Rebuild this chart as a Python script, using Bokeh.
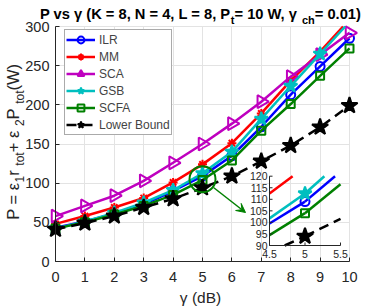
import numpy as np
from bokeh.plotting import figure
from bokeh.models import (Range1d, FixedTicker, Legend, LegendItem, Label,
                          Arrow, VeeHead, Grid)
from bokeh.core.properties import value
from bokeh.embed import file_html
from bokeh.resources import INLINE

# ---------------- data ----------------
gamma_db = [0, 1, 2, 3, 4, 5, 6, 7, 8, 9, 10]
ilr   = [43, 51, 61, 73, 90, 109, 135, 172, 213, 249, 285]
mm    = [48, 58, 69, 81, 101, 124, 151, 189, 231, 268, 309]
sca   = [58, 71, 84, 103, 126, 150, 176, 204, 236, 264, 292]
gsb   = [42, 51, 62, 75, 91, 112.5, 140, 182, 224, 265, 306]
scfa  = [42, 50, 60, 71, 85, 104, 129, 167, 201, 237, 272]
lower = [41, 49, 58, 69, 80, 94, 109, 128, 148, 171.5, 199]

x_ticks = [0, 1, 2, 3, 4, 5, 6, 7, 8, 9, 10]
y_ticks = [0, 50, 100, 150, 200, 250, 300]
x_lim = [0, 10]
y_lim = [0, 300]
zoom_x = [4.5, 5.5]
zoom_y = [90, 120]
inset_x_ticks = [4.5, 5, 5.5]
inset_x_labels = ["4.5", "5", "5.5"]
inset_y_ticks = [90, 95, 100, 105, 110, 115, 120]
inset_y_labels = ["90", "95", "100", "105", "110", "115", "120"]

title_parts = [("P vs \u03b3 (K = 8, N = 4, L = 8, P", False), ("t", True),
               (" = 10 W, \u03b3", False), ("ch", True), (" = 0.01)", False)]
ylabel_parts = [("P = \u03b5", False), ("1", True), (" r", False), ("tot", True),
                (" + \u03b5", False), ("2", True), (" P", False), ("tot", True),
                (" (W)", False)]
xlabel_text = "\u03b3 (dB)"

series = [
    ("ILR", ilr, "#0000ff", "circle", 9, False, None),
    ("MM", mm, "#ff0000", "asterisk", 9, False, None),
    ("SCA", sca, "#bf00bf", "triangle", 13, False, -np.pi / 2),
    ("GSB", gsb, "#00bfbf", "star", 14, True, None),
    ("SCFA", scfa, "#008000", "square", 8, False, None),
    ("Lower Bound", lower, "#000000", "star", 17, True, None),
]

# ---------------- page layout (pixels) ----------------
PAGE_W, PAGE_H = 366, 307
AL, AR, AT, AB = 55, 349, 26, 261          # axes box on the page
IL, IR, IT, IB = 269, 340, 175.7, 245      # inset box on the page
LEG_LEFT, LEG_BOTTOM = 64, 135             # legend box corner on the page
AX = "#262626"
FONT = "Liberation Sans"

kx = (x_lim[1] - x_lim[0]) / (AR - AL)
ky = (y_lim[1] - y_lim[0]) / (AB - AT)


def dx(px):
    return x_lim[0] + (px - AL) * kx


def dy(py):
    return y_lim[1] - (py - AT) * ky


REG = {' ': 278, '(': 333, ')': 333, '+': 584, '=': 584, ',': 278, '.': 278,
       'B': 667, 'K': 667, 'L': 556, 'N': 722, 'P': 667, 'W': 944, 'b': 556,
       'c': 500, 'd': 556, 'h': 556, 'o': 556, 'r': 333, 's': 500, 't': 278,
       'v': 500, '\u03b3': 500, '\u03b5': 450}
BOLD = {' ': 278, '(': 333, ')': 333, '=': 584, ',': 278, '.': 278, 'K': 722,
        'L': 611, 'N': 722, 'P': 667, 'W': 944, 'c': 556, 'h': 611, 's': 556,
        't': 333, 'v': 556, '\u03b3': 556}


def text_w(s, size, bold=False):
    tab = BOLD if bold else REG
    return sum(tab.get(ch, 556) for ch in s) / 1000.0 * size


def clip_segments(xs, ys, xmin, xmax, ymin, ymax):
    ox, oy = [], []
    for i in range(len(xs) - 1):
        x0, y0, x1, y1 = xs[i], ys[i], xs[i + 1], ys[i + 1]
        ddx, ddy = x1 - x0, y1 - y0
        t0, t1 = 0.0, 1.0
        ok = True
        for pp, qq in ((-ddx, x0 - xmin), (ddx, xmax - x0), (-ddy, y0 - ymin), (ddy, ymax - y0)):
            if pp == 0:
                if qq < 0:
                    ok = False
                    break
            else:
                r = qq / pp
                if pp < 0:
                    if r > t1:
                        ok = False
                        break
                    t0 = max(t0, r)
                else:
                    if r < t0:
                        ok = False
                        break
                    t1 = min(t1, r)
        if ok and t1 > t0:
            ox.append([x0 + t0 * ddx, x0 + t1 * ddx])
            oy.append([y0 + t0 * ddy, y0 + t1 * ddy])
    return ox, oy


# whole page is the plotting frame; axes are pinned at x=0 / y=0
p = figure(width=PAGE_W, height=PAGE_H, output_backend="svg", toolbar_location=None,
           x_range=Range1d(dx(0), dx(PAGE_W)), y_range=Range1d(dy(PAGE_H), dy(0)),
           min_border=0, min_border_left=0, min_border_right=0,
           min_border_top=0, min_border_bottom=0,
           background_fill_color="white", border_fill_color="white")
p.outline_line_color = None

for ax, ticks, lim in ((p.xaxis[0], x_ticks, x_lim), (p.yaxis[0], y_ticks, y_lim)):
    ax.ticker = FixedTicker(ticks=ticks)
    ax.fixed_location = 0
    ax.bounds = (lim[0], lim[1])
    ax.axis_line_color = AX
    ax.axis_line_width = 1
    ax.major_tick_line_color = AX
    ax.major_tick_in = 4
    ax.major_tick_out = 0
    ax.minor_tick_line_color = None
    ax.major_label_text_font = FONT
    ax.major_label_text_font_size = "14.5px"
    ax.major_label_text_color = AX
p.xaxis.major_label_standoff = 10
p.yaxis.major_label_standoff = 6

# grid limited to the axes box
if "cross_bounds" in Grid.properties():
    p.xgrid.ticker = FixedTicker(ticks=x_ticks)
    p.ygrid.ticker = FixedTicker(ticks=y_ticks)
    p.xgrid.cross_bounds = (y_lim[0], y_lim[1])
    p.ygrid.cross_bounds = (x_lim[0], x_lim[1])
    p.grid.grid_line_color = "#e3e3e3"
    p.grid.grid_line_width = 1
else:
    p.grid.visible = False
    p.segment(x0=x_ticks, y0=[y_lim[0]] * len(x_ticks), x1=x_ticks, y1=[y_lim[1]] * len(x_ticks),
              line_color="#e3e3e3", line_width=1, level="underlay")
    p.segment(x0=[x_lim[0]] * len(y_ticks), y0=y_ticks, x1=[x_lim[1]] * len(y_ticks), y1=y_ticks,
              line_color="#e3e3e3", line_width=1, level="underlay")

# ---------------- main series (clipped to the axes box) ----------------
items = []
for name, ys, col, mk, sz, filled, ang in series:
    dash = "10 6" if name == "Lower Bound" else "solid"
    if all(y_lim[0] <= v <= y_lim[1] for v in ys):
        lr = p.line(gamma_db, ys, line_color=col, line_width=2.5, line_dash=dash)
    else:
        cx, cy = clip_segments(gamma_db, ys, x_lim[0], x_lim[1], y_lim[0], y_lim[1])
        lr = p.multi_line(cx, cy, line_color=col, line_width=2.5, line_dash=dash)
    inside = [(g, v) for g, v in zip(gamma_db, ys) if y_lim[0] <= v <= y_lim[1]]
    kw = dict(marker=mk, size=sz, line_color=col, line_width=2,
              fill_color=col if filled else None)
    if ang is not None:
        kw["angle"] = ang
    sr = p.scatter([g for g, v in inside], [v for g, v in inside], **kw)
    items.append(LegendItem(label=name, renderers=[lr, sr]))

legend = Legend(items=items, location=(LEG_LEFT, PAGE_H - LEG_BOTTOM),
                label_text_font=FONT, label_text_font_size="12px",
                glyph_width=29, glyph_height=17, label_height=17, spacing=-1,
                padding=1, label_standoff=4, margin=0,
                border_line_color="#555555", border_line_width=1,
                background_fill_color="white", background_fill_alpha=1)
p.add_layout(legend)

# ---------------- inset (drawn on extra ranges) ----------------
sx = (zoom_x[1] - zoom_x[0]) / (IR - IL)
sy = (zoom_y[1] - zoom_y[0]) / (IB - IT)
p.extra_x_ranges = {"ix": Range1d(zoom_x[0] - IL * sx, zoom_x[1] + (PAGE_W - IR) * sx)}
p.extra_y_ranges = {"iy": Range1d(zoom_y[0] - (PAGE_H - IB) * sy, zoom_y[1] + IT * sy)}

IK = dict(x_range_name="ix", y_range_name="iy")
for name, ys, col, mk, sz, filled, ang in series:
    dash = "10 6" if name == "Lower Bound" else "solid"
    cx, cy = clip_segments(gamma_db, ys, zoom_x[0], zoom_x[1], zoom_y[0], zoom_y[1])
    if cx:
        p.multi_line(cx, cy, line_color=col, line_width=2.5, line_dash=dash, **IK)
    inside = [(g, v) for g, v in zip(gamma_db, ys)
              if zoom_x[0] <= g <= zoom_x[1] and zoom_y[0] <= v <= zoom_y[1]]
    if inside:
        kw = dict(marker=mk, size=sz, line_color=col, line_width=2,
                  fill_color=col if filled else None)
        if ang is not None:
            kw["angle"] = ang
        p.scatter([g for g, v in inside], [v for g, v in inside], **kw, **IK)

p.segment(x0=[zoom_x[0]], y0=[zoom_y[0]], x1=[zoom_x[0]], y1=[zoom_y[1]], line_color=AX, line_width=1, **IK)
p.segment(x0=[zoom_x[0]], y0=[zoom_y[0]], x1=[zoom_x[1]], y1=[zoom_y[0]], line_color=AX, line_width=1, **IK)
tk = 3.0
p.segment(x0=inset_x_ticks, y0=[zoom_y[0]] * len(inset_x_ticks), x1=inset_x_ticks,
          y1=[zoom_y[0] + tk * sy] * len(inset_x_ticks), line_color=AX, line_width=1, **IK)
p.segment(x0=[zoom_x[0]] * len(inset_y_ticks), y0=inset_y_ticks,
          x1=[zoom_x[0] + tk * sx] * len(inset_y_ticks), y1=inset_y_ticks,
          line_color=AX, line_width=1, **IK)
p.text(x=inset_x_ticks, y=[zoom_y[0]] * len(inset_x_ticks), text=inset_x_labels,
       text_align="center", text_baseline="top", y_offset=4,
       text_font=value(FONT), text_font_size="10.5px", text_color=AX, **IK)
p.text(x=[zoom_x[0]] * len(inset_y_ticks), y=inset_y_ticks, text=inset_y_labels,
       text_align="right", text_baseline="middle", x_offset=-2,
       text_font=value(FONT), text_font_size="10.5px", text_color=AX, **IK)

p.ellipse(x=[np.mean(zoom_x)], y=[np.mean(zoom_y)], width=26, height=26,
          width_units="screen", height_units="screen",
          fill_color=None, line_color="#008000", line_width=2)
p.add_layout(Arrow(x_start=dx(213), y_start=dy(187), x_end=dx(245), y_end=dy(212),
                   line_color="#008000", line_width=1.5,
                   end=VeeHead(size=9, fill_color="#008000", line_color="#008000")))

# ---------------- title (with subscripts) ----------------
T_SIZE, T_SUB, T_DROP, T_BASE = 14.7, 11.0, 6.5, 13.0
tot = sum(text_w(s, T_SUB if sub else T_SIZE, True) for s, sub in title_parts)
cur = (AL + AR) / 2 - tot / 2
for s, sub in title_parts:
    fs = T_SUB if sub else T_SIZE
    p.add_layout(Label(x=dx(cur), y=dy(T_BASE + (T_DROP if sub else 0)), text=s,
                       text_align="left", text_baseline="alphabetic",
                       text_font=FONT, text_font_style="bold",
                       text_font_size=f"{fs}px", text_color="#000000"))
    cur += text_w(s, fs, True)

# ---------------- y label (rotated, with subscripts) ----------------
L_SIZE, L_SUB, L_DROP, L_BASE = 16.5, 12.0, 6.5, 12.5
tot = sum(text_w(s, L_SUB if sub else L_SIZE) for s, sub in ylabel_parts)
cur = 139 + tot / 2
for s, sub in ylabel_parts:
    fs = L_SUB if sub else L_SIZE
    p.add_layout(Label(x=dx(L_BASE + (L_DROP if sub else 0)), y=dy(cur), text=s,
                       angle=np.pi / 2, text_align="left", text_baseline="alphabetic",
                       text_font=FONT, text_font_size=f"{fs}px", text_color=AX))
    cur -= text_w(s, fs)

# ---------------- x label ----------------
p.add_layout(Label(x=dx(200), y=dy(297), text=xlabel_text, text_align="center",
                   text_baseline="alphabetic", text_font=FONT,
                   text_font_size="15.5px", text_color=AX))

open("out.html", "w").write(file_html(p, INLINE))
